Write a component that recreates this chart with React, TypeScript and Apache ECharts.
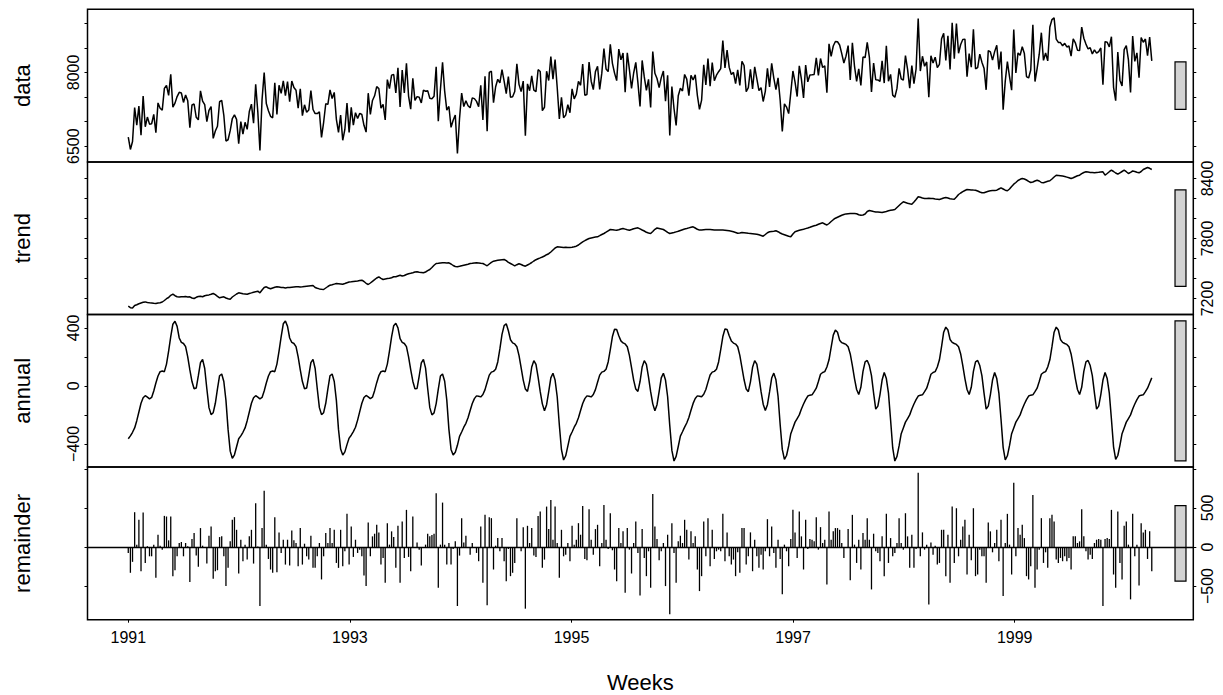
import { useEffect, useRef } from 'react'
import * as echarts from 'echarts'

// weekly series, first week = 1991.0, frequency 52.18
const startYear = 1991
const weeksPerYear = 52.18

const trend = [
  7123, 7108, 7105, 7130, 7138, 7148, 7155, 7162, 7166, 7160,
  7157, 7155, 7152, 7150, 7155, 7158, 7165, 7180, 7198, 7210,
  7232, 7243, 7228, 7218, 7215, 7218, 7217, 7220, 7215, 7217,
  7205, 7200, 7212, 7220, 7223, 7218, 7228, 7233, 7236, 7242,
  7250, 7238, 7222, 7207, 7212, 7217, 7205, 7198, 7193, 7215,
  7230, 7245, 7257, 7252, 7247, 7245, 7243, 7250, 7256, 7263,
  7268, 7273, 7257, 7285, 7310, 7317, 7305, 7297, 7305, 7312,
  7317, 7314, 7311, 7310, 7306, 7309, 7310, 7313, 7315, 7317,
  7318, 7315, 7317, 7320, 7323, 7326, 7328, 7330, 7310, 7302,
  7296, 7292, 7290, 7305, 7320, 7333, 7338, 7344, 7350, 7348,
  7346, 7343, 7350, 7358, 7365, 7367, 7370, 7373, 7375, 7380,
  7383, 7370, 7352, 7340, 7355, 7372, 7388, 7405, 7417, 7402,
  7390, 7395, 7400, 7402, 7408, 7417, 7417, 7425, 7433, 7425,
  7430, 7440, 7447, 7452, 7458, 7465, 7467, 7463, 7460, 7457,
  7465, 7478, 7490, 7510, 7532, 7550, 7552, 7555, 7557, 7557,
  7556, 7557, 7545, 7530, 7520, 7517, 7522, 7528, 7533, 7538,
  7543, 7550, 7552, 7555, 7557, 7555, 7552, 7550, 7538, 7527,
  7545, 7562, 7573, 7578, 7582, 7586, 7588, 7590, 7578, 7562,
  7550, 7538, 7527, 7538, 7548, 7540, 7530, 7523, 7535, 7547,
  7560, 7575, 7588, 7598, 7606, 7615, 7625, 7638, 7648, 7665,
  7685, 7705, 7717, 7716, 7713, 7710, 7712, 7709, 7710, 7712,
  7717, 7723, 7735, 7752, 7767, 7778, 7790, 7800, 7805, 7810,
  7814, 7817, 7828, 7840, 7850, 7863, 7877, 7890, 7888, 7885,
  7883, 7888, 7895, 7900, 7894, 7888, 7883, 7890, 7898, 7903,
  7907, 7896, 7885, 7875, 7862, 7855, 7850, 7870, 7892, 7905,
  7900, 7895, 7890, 7877, 7862, 7850, 7855, 7860, 7866, 7872,
  7880, 7888, 7895, 7900, 7906, 7912, 7917, 7905, 7892, 7884,
  7885, 7887, 7889, 7890, 7890, 7888, 7886, 7885, 7884, 7884,
  7884, 7883, 7880, 7877, 7873, 7867, 7860, 7852, 7855, 7860,
  7858, 7855, 7852, 7850, 7848, 7846, 7843, 7837, 7830, 7823,
  7840, 7858, 7867, 7870, 7873, 7877, 7868, 7855, 7845, 7838,
  7830, 7822, 7817, 7845, 7868, 7875, 7882, 7888, 7893, 7899,
  7905, 7912, 7920, 7927, 7933, 7942, 7950, 7957, 7945, 7935,
  7950, 7970, 7988, 8003, 8013, 8023, 8033, 8040, 8046, 8048,
  8050, 8050, 8050, 8048, 8038, 8033, 8035, 8045, 8070, 8080,
  8075, 8070, 8066, 8064, 8062, 8060, 8065, 8070, 8077, 8082,
  8086, 8090, 8110, 8130, 8150, 8167, 8160, 8153, 8147, 8143,
  8165, 8190, 8217, 8212, 8205, 8200, 8200, 8202, 8200, 8200,
  8196, 8193, 8190, 8197, 8205, 8210, 8205, 8198, 8195, 8193,
  8215, 8240, 8255, 8268, 8280, 8290, 8288, 8286, 8284, 8283,
  8275, 8265, 8258, 8257, 8265, 8272, 8277, 8279, 8281, 8283,
  8295, 8307, 8295, 8283, 8277, 8295, 8320, 8343, 8360, 8380,
  8392, 8400, 8395, 8385, 8372, 8360, 8365, 8375, 8383, 8375,
  8360, 8358, 8365, 8372, 8377, 8395, 8415, 8433, 8430, 8427,
  8424, 8420, 8414, 8408, 8400, 8408, 8418, 8428, 8433, 8448,
  8460, 8467, 8464, 8461, 8459, 8457, 8460, 8462, 8465, 8467,
  8433, 8450, 8468, 8483, 8470, 8455, 8443, 8457, 8470, 8483,
  8468, 8450, 8462, 8475, 8470, 8463, 8457, 8470, 8490, 8500,
  8510, 8502, 8490,
]

// seasonal component, one row of 13 per quarter-cycle (52-week cycles)
const annual = [
  -365, -345, -320, -290, -240, -180, -120, -82, -68, -78, -90, -80, -35,
  20, 68, 98, 102, 98, 150, 240, 340, 425, 445, 410, 330, 300,
  292, 270, 200, 110, 30, -20, -15, 70, 160, 183, 120, -20, -150,
  -198, -185, -120, -20, 70, 82, 30, -100, -300, -450, -500, -475, -420,

  -365, -345, -320, -290, -240, -180, -120, -82, -68, -78, -90, -80, -35,
  20, 68, 98, 102, 98, 150, 240, 340, 428, 447, 410, 330, 300,
  292, 270, 200, 110, 30, -20, -15, 70, 160, 183, 120, -20, -150,
  -198, -185, -120, -20, 70, 82, 30, -100, -300, -435, -477, -455, -405,

  -360, -340, -315, -285, -236, -178, -120, -80, -66, -76, -88, -78, -33,
  22, 70, 98, 102, 98, 150, 240, 338, 415, 432, 400, 325, 300,
  292, 270, 200, 112, 32, -20, -18, 68, 158, 183, 122, -18, -150,
  -200, -186, -122, -22, 68, 82, 32, -98, -300, -438, -477, -458, -410,

  -348, -318, -285, -258, -220, -170, -122, -88, -69, -71, -76, -60, -26,
  25, 74, 95, 100, 114, 165, 255, 355, 415, 428, 380, 318, 296,
  289, 270, 210, 125, 40, -22, -38, 30, 130, 174, 148, 60, -40,
  -124, -172, -130, -40, 55, 87, 40, -75, -270, -440, -511, -482, -415,

  -348, -318, -285, -258, -220, -170, -122, -88, -69, -71, -76, -60, -26,
  25, 74, 95, 100, 114, 165, 250, 340, 390, 388, 345, 310, 296,
  289, 270, 210, 125, 40, -22, -38, 30, 130, 174, 148, 60, -40,
  -124, -172, -130, -40, 55, 87, 40, -75, -272, -445, -518, -486, -418,

  -346, -316, -284, -256, -218, -168, -121, -87, -69, -71, -75, -58, -25,
  26, 75, 95, 100, 114, 165, 250, 340, 392, 389, 345, 310, 295,
  288, 270, 210, 126, 42, -22, -40, 28, 128, 174, 150, 62, -40,
  -126, -170, -130, -42, 54, 88, 42, -72, -268, -438, -507, -480, -414,

  -330, -290, -250, -225, -200, -160, -125, -95, -70, -64, -62, -40, -16,
  30, 80, 92, 98, 130, 180, 265, 350, 384, 370, 315, 298, 292,
  286, 270, 220, 140, 50, -25, -60, -10, 100, 165, 175, 140, 70,
  -50, -160, -140, -60, 40, 92, 50, -50, -235, -428, -518, -486, -414,

  -330, -290, -250, -225, -200, -160, -125, -95, -70, -64, -62, -40, -16,
  30, 80, 92, 98, 130, 180, 270, 370, 405, 385, 320, 300, 292,
  286, 270, 220, 140, 50, -25, -60, -10, 100, 165, 175, 140, 70,
  -50, -160, -140, -60, 40, 92, 50, -50, -230, -424, -511, -482, -412,

  -330, -290, -250, -225, -200, -160, -125, -95, -70, -64, -62, -40, -16,
  30, 80, 92, 98, 130, 180, 270, 370, 405, 385, 320, 300, 292,
  286, 270, 220, 140, 50, -25, -60, -10, 100, 165, 175, 140, 70,
  -50, -160, -140, -60, 40, 92, 50, -50, -230, -420, -507, -480, -410,

  -330, -290, -250, -225, -200, -160, -125, -95, -70, -64, -62, -40, -16,
  20, 55,
]

const remainder = [
  // 1991 - early 1993
  -76, -330, -190, 445,
  30, 348, -310, 441, -204, 10, -119, -119, 30, -394, 157, 15, -34, 398, 390, 85,
  390, -373, -297, -119, 51, 64, -119, 51, 8, -449, 102, 178, -110, -254, 242, 17,
  -5, -212, 144, 263, -407, -310, -297, 127, 136, -119, -500, -267, 72, 348, 382, 220,
  -339, 93, -182, 30, -161, 136, 220, -212, 560, 5, -755, 242, 721, 30, -153, -288,
  -330, 382, -322,
  187, -76, 93, -225, 93, -237, 212, 85, 51, -246, 242, -225, 42, -119,
  -161, 144, -267, -267, -119, 51, -415, -119, 178, 51, 242,
  51, 220,
  -204, -267, 220, -246, -55, 424, -225, 263, -127, 93, -76, -34, -119, -365, -500, 314,
  -119, 136, 170, 284, 187, -225, -140, -458, 305, 30, 200, 127,
  // 1993 - mid 1997
  -267, 271, -458, 326, -140, 475, -127, -310, 390, -13,
  59, -34, -237, 0, 30, 170, 136, 153, 170, 687,
  -521, 30, 568, 30, -225, 51, -225, -25, 72, -755,
  -110, 369, 59, 144, 0, -98, 51, 0, -76, -182,
  263, -458, 411, -746, 382, 369, -288, 17, 114, -55,
  114, -182, -437, -25, -373, -330, -204, 369, 0, -55,
  254, -789, 271, 51, 242, -110, -127, 398, 454, -267,
  -161, 517, 229, 602, 93, 517, 51, -394, 220, -119,
  -98, 51, -182, 271, 30, 93, 305, 157, 526, -153,
  -170, 483, 93, -98, 229, 284, -246, 51, 538, 93,
  -25, 432, -42, -288, -437, 242, 51, 200, -585, 242,
  -34, -339, 51, 326, -76, -619, 229, -140, -373, -55,
  -521, 678, 263, 102, -170, -55, 51, -500, 157, -861,
  305, -76, -458, 72, 144, 51, 348, 220, -161, 200,
  51, 136, -288, -564, -373, 326, -119, 369, -246, 220,
  -153, -55, -34, -55, 424, -182, 187, -119, -225, -161,
  -373, -68, -330, 242, 242, -225, -119, 187, -310, 93,
  -119, -267, -98, -288, -55, 356, -119, 263, -76, -267,
  93, -153, -606, 30, -55, -246, 102, 475, 187, -140,
  454, 136, -288, 348, -25, 102, 93, 72, 382, -34,
  254, 51, 93, -479, 454, 93, 200, 242, 242, 220,
  51, -140, 0, 229, -424, 411, 30, -204, 93,
  // mid 1997 - 2000
  -288, 178, 93, 369, 93, -543, 170, -55, -76, -182,
  136, -373, 424, -204, 114, -119, -76, 51, 369, 51,
  -34, 432, 136, -267, 157, -267, -25, 950, -119, 187,
  -34, 30, -734, 59, -98, 17, -225, -204, 220, 220,
  -373, 157, -458, 517, -204, 496, -119, 93, 263, 348,
  -352, 157, -170, 496, -373, -352, -34, -119, -119, -458,
  314, 200, -68, 51, 220, -182, 348, -627, 51, 424,
  30, -352, 822, -119, 242, 157, 284, 114, -373, -415,
  -246, 666, -521, -288, -34, 369, -204, -68, -267, 369,
  411, 326, -161, -204, -140, -182, -119, -182, -140, -288,
  136, 136, 51, 72, 483, 136, -55, -161, -98, -153,
  51, 93, 102, 93, -755, 102, 114, 102, 475, -352,
  -521, 454, -204, -415, 271, 326, 30, -670, 424, -119,
  30, -492, 305, 187, 220, -153, 200, -310,
]

const xTicks = [1991, 1993, 1995, 1997, 1999]
const dataTicks = [6500, 7000, 7500, 8000, 8500, 9000]
const dataLabels = [6500, 8000]
const trendTicks = [7200, 7400, 7600, 7800, 8000, 8200, 8400]
const trendLabels = [7200, 7800, 8400]
const annualTicks = [-400, -200, 0, 200, 400]
const annualLabels = [-400, 0, 400]
const remainderTicks = [-500, 0, 500, 1000]
const remainderLabels = [-500, 0, 500]

// height of the grey range bar, in data units (same in every panel)
const rangeBarHeight = 965

const FONT = "'Liberation Sans', Arial, Helvetica, sans-serif"

export default function App() {
  const ref = useRef<HTMLDivElement>(null)

  useEffect(() => {
    if (!ref.current) return
    const chart = echarts.init(ref.current, undefined, { renderer: 'svg' })

    const xs = trend.map((_, i) => startYear + i / weeksPerYear)
    const sumData = trend.map((t, i) => [xs[i], t + annual[i] + remainder[i]])
    const trendData = trend.map((t, i) => [xs[i], t])
    const annualData = annual.map((a, i) => [xs[i], a])
    const remData = remainder.map((r, i) => [xs[i], r])

    const xMin = 1990.632
    const xMax = 2000.612
    const barX = [2000.447, 2000.546]

    const panels = [
      { name: 'data', min: 6180, max: 9285, ticks: dataTicks, labels: dataLabels, side: 'left' },
      { name: 'trend', min: 7040, max: 8566, ticks: trendTicks, labels: trendLabels, side: 'right' },
      { name: 'annual', min: -560, max: 492, ticks: annualTicks, labels: annualLabels, side: 'left' },
      { name: 'remainder', min: -930, max: 1022, ticks: remainderTicks, labels: remainderLabels, side: 'right' },
    ]
    const tops = [9.3, 161.9, 314.5, 467.1]
    const panelH = 152.6

    const fmt = (v: number) => (v < 0 ? '\u2212' + Math.abs(v) : String(v))

    const grid = tops.map(top => ({
      left: 87.5, right: 29.7, top, height: panelH,
      show: true, borderColor: '#000', borderWidth: 1.5, backgroundColor: 'transparent',
    }))

    const xAxis = panels.map((_, k) => ({
      type: 'value', gridIndex: k, min: xMin, max: xMax,
      axisLine: { show: false, onZero: false },
      splitLine: { show: false },
      axisTick: { show: k === 3, length: 3, lineStyle: { color: '#000', width: 1 }, customValues: xTicks },
      axisLabel: { show: k === 3, customValues: xTicks, formatter: (v: number) => String(v), fontSize: 16, color: '#000', fontFamily: FONT, margin: 10 },
      name: k === 3 ? 'Weeks' : '',
      nameLocation: 'middle', nameGap: 52,
      nameTextStyle: { fontSize: 22, color: '#000', fontFamily: FONT },
    }))

    const yAxis: any[] = []
    panels.forEach((p, k) => {
      for (const side of ['left', 'right']) {
        yAxis.push({
          type: 'value', gridIndex: k, position: side, min: p.min, max: p.max,
          name: side === 'left' ? p.name : '',
          nameLocation: 'middle', nameRotate: 90, nameGap: 54,
          nameTextStyle: { fontSize: 22, color: '#000', fontFamily: FONT },
          axisLine: { show: false, onZero: false },
          splitLine: { show: false },
          axisTick: { show: true, length: 3, lineStyle: { color: '#000', width: 1 }, customValues: p.ticks },
          axisLabel: {
            show: p.side === side, customValues: p.labels, formatter: fmt, rotate: 90, margin: 6,
            fontSize: 16, color: '#000', fontFamily: FONT,
          },
        })
      }
    })

    const lineSeries = (data: number[][], k: number) => ({
      type: 'line', xAxisIndex: k, yAxisIndex: 2 * k, data, showSymbol: false, silent: true,
      lineStyle: { color: '#000', width: 1.5 },
    })

    const rangeBars = panels.map((p, k) => {
      const mid = (p.min + p.max) / 2
      return {
        type: 'custom', xAxisIndex: k, yAxisIndex: 2 * k, silent: true,
        data: [[barX[0], barX[1], mid - rangeBarHeight / 2, mid + rangeBarHeight / 2]],
        renderItem: (_: any, api: any) => {
          const a = api.coord([api.value(0), api.value(3)])
          const b = api.coord([api.value(1), api.value(2)])
          return {
            type: 'rect',
            shape: { x: a[0], y: a[1], width: b[0] - a[0], height: b[1] - a[1] },
            style: { fill: '#d3d3d3', stroke: '#000', lineWidth: 1.2 },
          }
        },
      }
    })

    chart.setOption({
      animation: false,
      backgroundColor: '#fff',
      textStyle: { fontFamily: FONT },
      grid, xAxis, yAxis,
      series: [
        lineSeries(sumData, 0),
        lineSeries(trendData, 1),
        lineSeries(annualData, 2),
        {
          type: 'custom', xAxisIndex: 3, yAxisIndex: 6, silent: true, data: remData,
          renderItem: (_: any, api: any) => {
            const base = api.coord([api.value(0), 0])
            const tip = api.coord([api.value(0), api.value(1)])
            return {
              type: 'line',
              shape: { x1: base[0], y1: base[1], x2: tip[0], y2: tip[1] },
              style: { stroke: '#000', lineWidth: 1.3 },
            }
          },
          markLine: {
            silent: true, symbol: 'none', label: { show: false },
            lineStyle: { color: '#000', width: 1.3, type: 'solid' },
            data: [{ yAxis: 0 }],
          },
        },
        ...rangeBars,
      ],
    })

    return () => chart.dispose()
  }, [])

  return <div ref={ref} style={{ position: 'fixed', left: 0, top: 0, width: 1223, height: 695, background: '#fff' }} />
}
